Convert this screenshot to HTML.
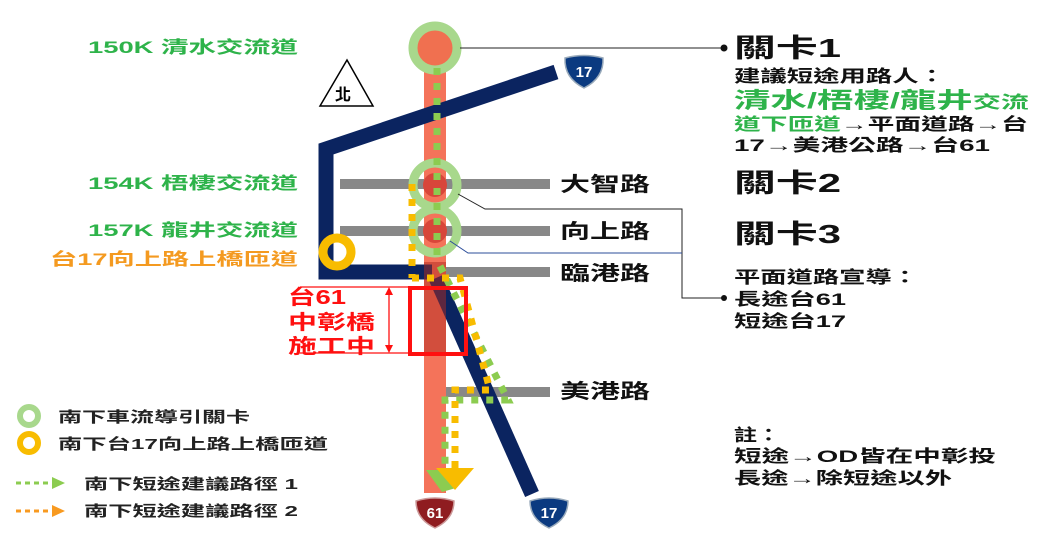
<!DOCTYPE html>
<html><head><meta charset="utf-8"><style>
body{margin:0;background:#fff;width:1045px;height:551px;overflow:hidden}
svg{display:block}
text{font-family:"Liberation Sans","Noto Sans CJK TC",sans-serif;font-weight:bold}
</style></head><body>
<svg width="1045" height="551" viewBox="0 0 1045 551" xmlns="http://www.w3.org/2000/svg">
<g stroke="#888" stroke-width="10">
<line x1="340" y1="184" x2="550" y2="184"/>
<line x1="340" y1="231" x2="550" y2="231"/>
<line x1="440" y1="272" x2="550" y2="272"/>
<line x1="435" y1="392" x2="550" y2="392"/>
</g>
<rect x="424" y="24" width="22" height="469" fill="#f4735a"/>
<polyline points="556,72 326,149 326,272 432,272" fill="none" stroke="#0b2460" stroke-width="15"/>
<line x1="436" y1="278" x2="532" y2="494" stroke="#0b2460" stroke-width="15"/>
<rect x="424" y="262" width="22" height="90" fill="#b02a20" opacity="0.5"/>
<circle cx="435" cy="48" r="22" fill="#f07050" stroke="#a8d88c" stroke-width="9"/>
<circle cx="435" cy="185" r="22" fill="none" stroke="#a8d88c" stroke-width="9"/>
<circle cx="435" cy="185" r="12" fill="#d8463a"/>
<circle cx="435" cy="231" r="22" fill="none" stroke="#a8d88c" stroke-width="9"/>
<circle cx="435" cy="231" r="12" fill="#d8463a"/>
<circle cx="337" cy="252" r="14" fill="none" stroke="#f8bc00" stroke-width="9"/>
<line x1="437" y1="68" x2="437" y2="262" stroke="#8ccc50" stroke-width="7" stroke-dasharray="7,8"/>
<line x1="412" y1="184" x2="412" y2="278" stroke="#f8bc00" stroke-width="7" stroke-dasharray="7,8"/>
<polyline points="440,266 508,400 445,400 445,478" fill="none" stroke="#8ccc50" stroke-width="7" stroke-dasharray="7,8"/>
<polyline points="412,278 460,278 490,390 455,390 455,470" fill="none" stroke="#f8bc00" stroke-width="7" stroke-dasharray="7,8"/>
<polygon points="426,470 468,470 456,488 442,492" fill="#8ccc50"/>
<polygon points="436,468 474,468 455,490" fill="#f8bc00"/>
<rect x="410" y="288" width="56" height="66" fill="none" stroke="#ff1010" stroke-width="4"/>
<g stroke="#ff1010" stroke-width="1.3">
<line x1="300" y1="287" x2="410" y2="287"/><line x1="300" y1="353" x2="410" y2="353"/>
<line x1="389" y1="289" x2="389" y2="351"/>
</g>
<polygon points="389,287 385,295 393,295" fill="#ff1010"/>
<polygon points="389,353 385,345 393,345" fill="#ff1010"/>
<g fill="#ff1010" font-size="20" lengthAdjust="spacingAndGlyphs">
<text x="288" y="304" textLength="58" lengthAdjust="spacingAndGlyphs">台61</text>
<text x="288" y="329" textLength="87" lengthAdjust="spacingAndGlyphs">中彰橋</text>
<text x="288" y="353" textLength="87" lengthAdjust="spacingAndGlyphs">施工中</text></g>
<polygon points="347,60 320,106 373,106" fill="#fff" stroke="#000" stroke-width="1.5"/>
<text x="335" y="100" font-size="16">北</text>
<g fill="none" stroke="#222" stroke-width="1">
<line x1="460" y1="48" x2="722" y2="48"/>
<polyline points="458,194 485,209 682,209 682,298 722,298"/>
<polyline points="450,241 468,253 682,253" stroke="#2b4d9a"/>
</g>
<circle cx="724" cy="48" r="3.5" fill="#111"/><circle cx="724" cy="298" r="3" fill="#111"/>
<g fill="#111" font-size="20">
<text x="560" y="191" textLength="90" lengthAdjust="spacingAndGlyphs">大智路</text>
<text x="560" y="238" textLength="90" lengthAdjust="spacingAndGlyphs">向上路</text>
<text x="560" y="280" textLength="90" lengthAdjust="spacingAndGlyphs">臨港路</text>
<text x="560" y="398" textLength="90" lengthAdjust="spacingAndGlyphs">美港路</text></g>
<g fill="#2eb34a" font-size="17">
<text x="88" y="53" textLength="210" lengthAdjust="spacingAndGlyphs">150K 清水交流道</text>
<text x="88" y="189" textLength="210" lengthAdjust="spacingAndGlyphs">154K 梧棲交流道</text>
<text x="88" y="236" textLength="210" lengthAdjust="spacingAndGlyphs">157K 龍井交流道</text></g>
<text x="50" y="265" font-size="17" fill="#f49a20" textLength="248" lengthAdjust="spacingAndGlyphs">台17向上路上橋匝道</text>
<g font-size="15" fill="#fff" text-anchor="middle">
<path d="M565,58 Q584,53 603,58 Q604,78 584,88 Q564,78 565,58Z" fill="#0b3a80" stroke="#9ab" stroke-width="1.5"/><text x="584" y="77">17</text>
<path d="M416,501 Q435,495 454,501 Q454,519 435,528 Q416,519 416,501Z" fill="#8f1c20" stroke="#c99" stroke-width="1.5"/><text x="435" y="518">61</text>
<path d="M530,501 Q549,495 568,501 Q568,519 549,528 Q530,519 530,501Z" fill="#0b3a80" stroke="#9ab" stroke-width="1.5"/><text x="549" y="518">17</text>
</g>
<g fill="#111">
<text x="734" y="57" font-size="26" textLength="107" lengthAdjust="spacingAndGlyphs">關卡1</text>
<text x="734" y="82" font-size="17" textLength="211" lengthAdjust="spacingAndGlyphs">建議短途用路人：</text>
<text x="734" y="108" font-size="22" fill="#2eb34a" textLength="295" lengthAdjust="spacingAndGlyphs">清水/梧棲/龍井<tspan font-size="17">交流</tspan></text>
<text x="734" y="130" font-size="17" textLength="294" lengthAdjust="spacingAndGlyphs"><tspan fill="#2eb34a">道下匝道</tspan>→平面道路→台</text>
<text x="734" y="151" font-size="17" textLength="256" lengthAdjust="spacingAndGlyphs">17→美港公路→台61</text>
<text x="734" y="192" font-size="26" textLength="107" lengthAdjust="spacingAndGlyphs">關卡2</text>
<text x="734" y="243" font-size="26" textLength="107" lengthAdjust="spacingAndGlyphs">關卡3</text>
<text x="734" y="283" font-size="17" textLength="184" lengthAdjust="spacingAndGlyphs">平面道路宣導：</text>
<text x="734" y="305" font-size="17" textLength="112" lengthAdjust="spacingAndGlyphs">長途台61</text>
<text x="734" y="327" font-size="17" textLength="112" lengthAdjust="spacingAndGlyphs">短途台17</text>
<text x="734" y="441" font-size="17" textLength="46" lengthAdjust="spacingAndGlyphs">註：</text>
<text x="734" y="462" font-size="17" textLength="262" lengthAdjust="spacingAndGlyphs">短途→OD皆在中彰投</text>
<text x="734" y="484" font-size="17" textLength="218" lengthAdjust="spacingAndGlyphs">長途→除短途以外</text>
</g>
<circle cx="29" cy="416" r="9" fill="none" stroke="#a8d88c" stroke-width="6"/>
<circle cx="29" cy="443" r="9" fill="none" stroke="#f8bc00" stroke-width="6"/>
<line x1="16" y1="483" x2="52" y2="483" stroke="#8ccc50" stroke-width="3" stroke-dasharray="5,4"/>
<polygon points="52,477 65,483 52,489" fill="#8ccc50"/>
<line x1="16" y1="511" x2="52" y2="511" stroke="#f89a20" stroke-width="3" stroke-dasharray="5,4"/>
<polygon points="52,505 65,511 52,517" fill="#f89a20"/>
<g fill="#222" font-size="15">
<text x="58" y="422" textLength="192" lengthAdjust="spacingAndGlyphs">南下車流導引關卡</text>
<text x="58" y="449" textLength="270" lengthAdjust="spacingAndGlyphs">南下台17向上路上橋匝道</text>
<text x="84" y="489" textLength="214" lengthAdjust="spacingAndGlyphs">南下短途建議路徑 1</text>
<text x="84" y="516" textLength="214" lengthAdjust="spacingAndGlyphs">南下短途建議路徑 2</text></g>
</svg>
</body></html>
